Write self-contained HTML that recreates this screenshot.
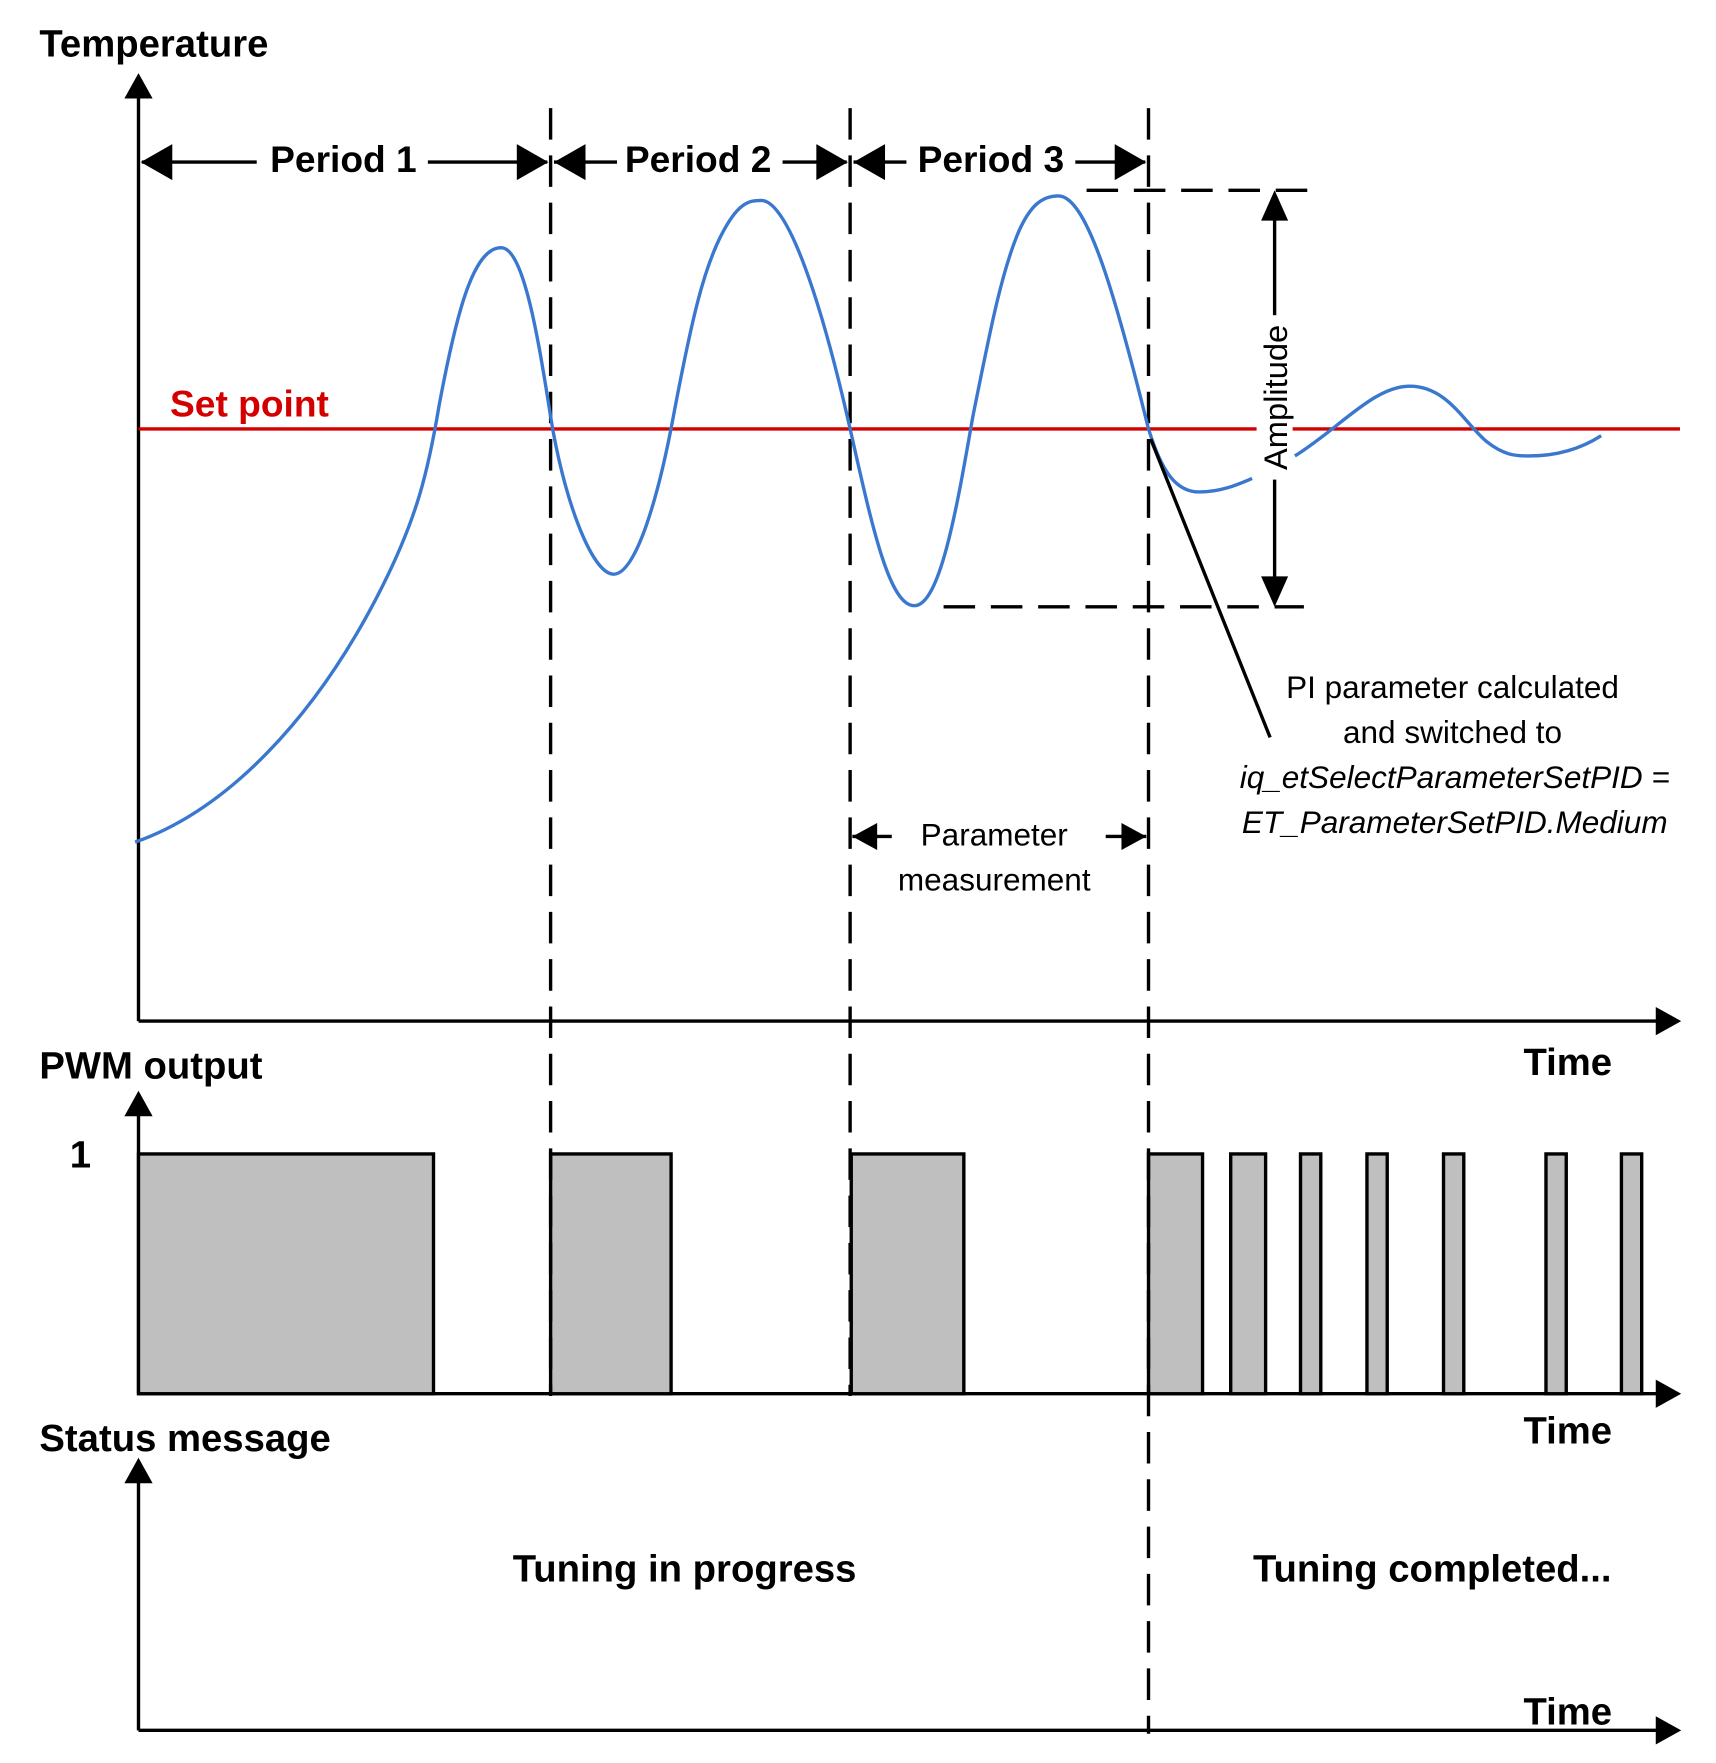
<!DOCTYPE html>
<html><head><meta charset="utf-8"><style>
html,body{margin:0;padding:0;background:#fff;}
svg{display:block;}
text{font-family:"Liberation Sans Narrow","Liberation Sans",sans-serif;fill:#000;}
.b{font-weight:bold;}
</style></head><body>
<svg width="1716" height="1763" viewBox="0 0 1524 1566" preserveAspectRatio="none" xmlns="http://www.w3.org/2000/svg">
<defs>
<marker id="ah" markerWidth="10" markerHeight="10" refX="9" refY="5" orient="auto" markerUnits="userSpaceOnUse" viewBox="0 0 10 10"><path d="M0,0 L10,5 L0,10 z" fill="#000"/></marker>
</defs>
<g stroke="#000" stroke-width="3" fill="none">
<!-- axes -->
<line x1="123" y1="907" x2="123" y2="80"/>
<path d="M113,86 L123,68 L133,86 z" fill="#000"/>
<line x1="123" y1="907" x2="1478" y2="907"/>
<path d="M1472,897 L1490,907 L1472,917 z" fill="#000"/>
<line x1="123" y1="1238" x2="123" y2="985"/>
<path d="M113,990 L123,972 L133,990 z" fill="#000"/>
<line x1="123" y1="1238" x2="1478" y2="1238"/>
<path d="M1472,1228 L1490,1238 L1472,1248 z" fill="#000"/>
<line x1="123" y1="1537" x2="123" y2="1310"/>
<path d="M113,1316 L123,1298 L133,1316 z" fill="#000"/>
<line x1="123" y1="1537" x2="1478" y2="1537"/>
<path d="M1472,1527 L1490,1537 L1472,1547 z" fill="#000"/>
</g>
<!-- PWM rects -->
<g stroke="#000" stroke-width="3" fill="#bfbfbf">
<rect x="123" y="1025" width="262" height="213"/>
<rect x="489" y="1025" width="107" height="213"/>
<rect x="756" y="1025" width="100" height="213"/>
<rect x="1020" y="1025" width="48" height="213"/>
<rect x="1093" y="1025" width="31" height="213"/>
<rect x="1155" y="1025" width="18" height="213"/>
<rect x="1214" y="1025" width="18" height="213"/>
<rect x="1282" y="1025" width="18" height="213"/>
<rect x="1373" y="1025" width="18" height="213"/>
<rect x="1440" y="1025" width="18" height="213"/>
</g>
<!-- dashed verticals -->
<g stroke="#000" stroke-width="3" stroke-dasharray="28,14" fill="none">
<line x1="489" y1="96" x2="489" y2="1240"/>
<line x1="755" y1="96" x2="755" y2="1240"/>
<line x1="1020" y1="96" x2="1020" y2="1540"/>
<line x1="965" y1="169" x2="1163" y2="169"/>
<line x1="838" y1="539" x2="1158" y2="539"/>
</g>
<!-- set point -->
<line x1="123" y1="381" x2="1492" y2="381" stroke="#d40000" stroke-width="3"/>
<text x="151" y="370" font-size="33" class="b" style="fill:#d40000">Set point</text>
<!-- curve -->
<path d="M120,748 C200,720 280,640 340,520 C370,460 380,420 390,360 C405,280 420,220 445,220 C465,220 478,300 489,370 C500,440 525,510 545,510 C565,510 585,440 598,370 C615,280 625,240 640,210 C655,180 665,178 676,178 C700,178 730,270 755,381 C775,470 790,538 812,538 C835,538 850,450 864,370 C880,290 890,240 905,205 C915,183 925,174 940,174 C965,174 990,260 1020,381 C1032,420 1045,437 1065,437 C1085,437 1100,430 1112,425" stroke="#3a78d0" stroke-width="3" fill="none"/>
<path d="M1150,405 C1190,380 1220,343 1252,343 C1285,343 1300,375 1320,392 C1335,404 1345,405 1358,405 C1385,405 1405,398 1422,387" stroke="#3a78d0" stroke-width="3" fill="none"/>
<!-- period arrows -->
<g stroke="#000" stroke-width="3">
<line x1="126" y1="144" x2="228" y2="144"/>
<line x1="380" y1="144" x2="486" y2="144"/>
<line x1="492" y1="144" x2="548" y2="144"/>
<line x1="695" y1="144" x2="752" y2="144"/>
<line x1="758" y1="144" x2="805" y2="144"/>
<line x1="955" y1="144" x2="1017" y2="144"/>
</g>
<g fill="#000">
<path d="M125,144 L153,128 L153,160 z"/>
<path d="M487,144 L459,128 L459,160 z"/>
<path d="M492,144 L520,128 L520,160 z"/>
<path d="M753,144 L725,128 L725,160 z"/>
<path d="M758,144 L786,128 L786,160 z"/>
<path d="M1018,144 L990,128 L990,160 z"/>
</g>
<text x="305" y="153" font-size="33" class="b" text-anchor="middle">Period 1</text>
<text x="620" y="153" font-size="33" class="b" text-anchor="middle">Period 2</text>
<text x="880" y="153" font-size="33" class="b" text-anchor="middle">Period 3</text>
<!-- amplitude -->
<line x1="1132" y1="190" x2="1132" y2="520" stroke="#000" stroke-width="3"/>
<path d="M1132,169 L1120,196 L1144,196 z" fill="#000"/>
<path d="M1132,539 L1120,512 L1144,512 z" fill="#000"/>
<rect x="1116" y="280" width="32" height="146" fill="#fff"/>
<text transform="translate(1143,353) rotate(-90)" font-size="29" text-anchor="middle">Amplitude</text>
<!-- leader line -->
<line x1="1022" y1="390" x2="1128" y2="655" stroke="#000" stroke-width="3"/>
<text x="1290" y="620" font-size="28" text-anchor="middle">PI parameter calculated</text>
<text x="1290" y="660" font-size="28" text-anchor="middle">and switched to</text>
<text x="1292" y="700" font-size="28" font-style="italic" text-anchor="middle">iq_etSelectParameterSetPID =</text>
<text x="1292" y="740" font-size="28" font-style="italic" text-anchor="middle">ET_ParameterSetPID.Medium</text>
<!-- parameter measurement -->
<line x1="757" y1="743" x2="792" y2="743" stroke="#000" stroke-width="3"/>
<line x1="982" y1="743" x2="1018" y2="743" stroke="#000" stroke-width="3"/>
<path d="M757,743 L779,731 L779,755 z" fill="#000"/>
<path d="M1018,743 L996,731 L996,755 z" fill="#000"/>
<text x="883" y="751" font-size="28" text-anchor="middle">Parameter</text>
<text x="883" y="791" font-size="28" text-anchor="middle">measurement</text>
<!-- labels -->
<text x="35" y="50" font-size="34" class="b">Temperature</text>
<text x="35" y="958" font-size="34" class="b">PWM output</text>
<text x="35" y="1289" font-size="34" class="b">Status message</text>
<text x="62" y="1037" font-size="34" class="b">1</text>
<text x="1353" y="955" font-size="34" class="b">Time</text>
<text x="1353" y="1282" font-size="34" class="b">Time</text>
<text x="1353" y="1532" font-size="34" class="b">Time</text>
<text x="608" y="1405" font-size="34" class="b" text-anchor="middle">Tuning in progress</text>
<text x="1272" y="1405" font-size="34" class="b" text-anchor="middle">Tuning completed...</text>
</svg>
</body></html>
